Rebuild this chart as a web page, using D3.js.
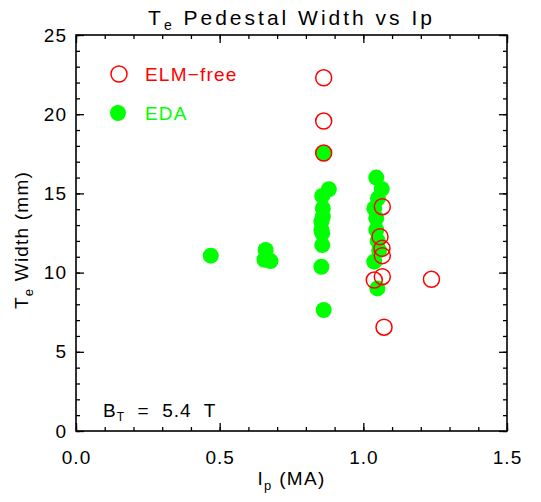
<html>
<head>
    <script src="https://d3js.org/d3.v7.min.js"></script>
    <style>
        body { margin: 0; background: #fff; }
        text { font-family: "Liberation Sans", Arial, sans-serif; }
    </style>
</head>
<body>
    <svg id="plot"></svg>
    <script>
        // EDA points (filled green)
        var edaIp = [0.469, 0.66, 0.656, 0.677,
                     0.862, 0.88, 0.857, 0.859, 0.859, 0.854, 0.854, 0.857, 0.857, 0.854, 0.862,
                     1.045, 1.064, 1.051, 1.038, 1.045, 1.045, 1.05, 1.055, 1.038, 1.049];
        var edaW  = [11.07, 11.43, 10.81, 10.73,
                     17.53, 15.26, 14.84, 14.06, 13.53, 13.21, 12.69, 12.48, 11.74, 10.37, 7.64,
                     16.0, 15.28, 14.69, 14.06, 13.43, 12.69, 12.0, 11.4, 10.69, 9.0];

        // ELM-free points (open red)
        var elmIp = [0.862, 0.862, 0.862, 1.066, 1.058, 1.065, 1.066, 1.066, 1.038, 1.237, 1.072];
        var elmW  = [22.3, 19.57, 17.55, 14.16, 12.27, 11.53, 11.07, 9.74, 9.53, 9.58, 6.55];

        var xMajor = [0.0, 0.5, 1.0, 1.5];
        var yMajor = [0, 5, 10, 15, 20, 25];

        var SizeX = 541, SizeY = 502,
            Margin = { left: 76, right: 34, top: 35, bottom: 71 };

        var svg = d3.select("#plot")
            .attr("width", SizeX)
            .attr("height", SizeY);

        var x = d3.scaleLinear().domain([0, 1.5]).range([Margin.left, SizeX - Margin.right]);
        var y = d3.scaleLinear().domain([0, 25]).range([SizeY - Margin.bottom, Margin.top]);

        var xMinor = d3.range(0, 1.5001, 0.1).map(function(v){ return +v.toFixed(1); });
        var yMinor = d3.range(0, 25.001, 1);

        var W = SizeX - Margin.left - Margin.right,
            H = SizeY - Margin.top - Margin.bottom;

        function styleAxis(g) {
            g.select(".domain").remove();
            g.selectAll("line").attr("stroke", "#000").attr("stroke-width", 1.3);
            g.selectAll("text").attr("fill", "#000").style("font-size", "19px")
                .style("letter-spacing", "1px")
                .style("font-family", "'Liberation Sans', Arial, sans-serif");
        }

        // bottom
        svg.append("g").attr("transform", "translate(0," + y(0) + ")")
            .call(d3.axisBottom(x).tickValues(xMinor).tickSize(-4).tickFormat(""))
            .call(styleAxis);
        svg.append("g").attr("transform", "translate(0," + y(0) + ")")
            .call(d3.axisBottom(x).tickValues(xMajor).tickSize(-8).tickPadding(20).tickFormat(d3.format(".1f")))
            .call(styleAxis);
        // top
        svg.append("g").attr("transform", "translate(0," + y(25) + ")")
            .call(d3.axisTop(x).tickValues(xMinor).tickSize(-4).tickFormat(""))
            .call(styleAxis);
        svg.append("g").attr("transform", "translate(0," + y(25) + ")")
            .call(d3.axisTop(x).tickValues(xMajor).tickSize(-8).tickFormat(""))
            .call(styleAxis);
        // left
        svg.append("g").attr("transform", "translate(" + x(0) + ",0)")
            .call(d3.axisLeft(y).tickValues(yMinor).tickSize(-4).tickFormat(""))
            .call(styleAxis);
        svg.append("g").attr("transform", "translate(" + x(0) + ",0)")
            .call(d3.axisLeft(y).tickValues(yMajor).tickSize(-8).tickPadding(9).tickFormat(d3.format("d")))
            .call(styleAxis);
        // right
        svg.append("g").attr("transform", "translate(" + x(1.5) + ",0)")
            .call(d3.axisRight(y).tickValues(yMinor).tickSize(-4).tickFormat(""))
            .call(styleAxis);
        svg.append("g").attr("transform", "translate(" + x(1.5) + ",0)")
            .call(d3.axisRight(y).tickValues(yMajor).tickSize(-8).tickFormat(""))
            .call(styleAxis);

        // frame
        svg.append("rect")
            .attr("x", Margin.left).attr("y", Margin.top)
            .attr("width", W).attr("height", H)
            .attr("fill", "none").attr("stroke", "#000").attr("stroke-width", 1.6);

        // EDA points
        svg.selectAll(".eda")
            .data(d3.range(edaIp.length))
            .enter().append("circle").classed("eda", true)
                .attr("cx", function(i){ return x(edaIp[i]); })
                .attr("cy", function(i){ return y(edaW[i]); })
                .attr("r", 8)
                .attr("fill", "#00ff00");

        // ELM-free points
        svg.selectAll(".elm")
            .data(d3.range(elmIp.length))
            .enter().append("circle").classed("elm", true)
                .attr("cx", function(i){ return x(elmIp[i]); })
                .attr("cy", function(i){ return y(elmW[i]); })
                .attr("r", 8)
                .attr("fill", "none")
                .attr("stroke", "#ff0000")
                .attr("stroke-width", 1.5);

        // legend
        svg.append("circle").attr("cx", 119).attr("cy", 74).attr("r", 8)
            .attr("fill", "none").attr("stroke", "#ff0000").attr("stroke-width", 1.5);
        svg.append("text").attr("x", 145).attr("y", 81).style("letter-spacing", "1.2px")
            .attr("fill", "#ff0000").style("font-size", "19px").text("ELM\u2212free");
        svg.append("circle").attr("cx", 118).attr("cy", 113).attr("r", 8)
            .attr("fill", "#00ff00");
        svg.append("text").attr("x", 145).attr("y", 120).style("letter-spacing", "1.2px")
            .attr("fill", "#00ff00").style("font-size", "19px").text("EDA");

        // B_T annotation
        var bt = svg.append("text").attr("x", 103).attr("y", 417).attr("xml:space", "preserve")
            .style("font-size", "19px").style("letter-spacing", "1px");
        bt.append("tspan").text("B");
        bt.append("tspan").attr("dy", 4).style("font-size", "12px").text("T");
        bt.append("tspan").attr("dy", -4).text("  =  5.4  T");

        // title
        var title = svg.append("text").attr("x", (Margin.left + SizeX - Margin.right) / 2).attr("y", 25)
            .attr("text-anchor", "middle").style("font-size", "21px").style("letter-spacing", "3px");
        title.append("tspan").text("T");
        title.append("tspan").attr("dy", 5).style("font-size", "14px").text("e");
        title.append("tspan").attr("dy", -5).text(" Pedestal Width vs Ip");

        // x label
        var xl = svg.append("text").attr("x", (Margin.left + SizeX - Margin.right) / 2).attr("y", 485)
            .attr("text-anchor", "middle").style("font-size", "19px").style("letter-spacing", "1.3px");
        xl.append("tspan").text("I");
        xl.append("tspan").attr("dy", 5).style("font-size", "13px").text("p");
        xl.append("tspan").attr("dy", -5).text(" (MA)");

        // y label
        var yl = svg.append("text")
            .attr("transform", "translate(28," + ((Margin.top + SizeY - Margin.bottom) / 2 + 7) + ") rotate(-90)")
            .attr("text-anchor", "middle").style("font-size", "19px").style("letter-spacing", "1.2px");
        yl.append("tspan").text("T");
        yl.append("tspan").attr("dy", 5).style("font-size", "13px").text("e");
        yl.append("tspan").attr("dy", -5).text(" Width (mm)");
    </script>
</body>
</html>
